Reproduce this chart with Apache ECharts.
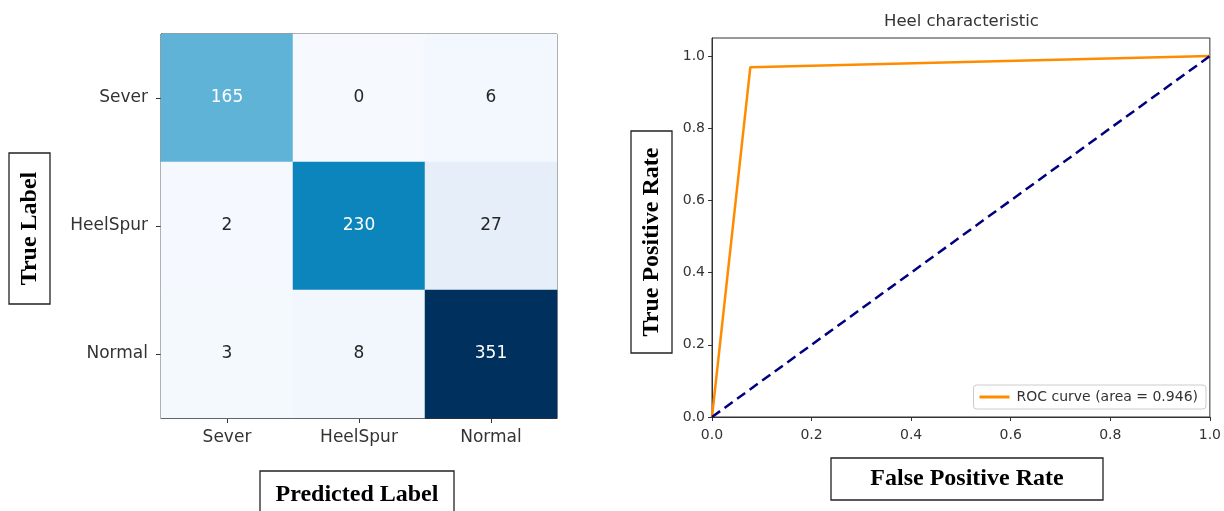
<!DOCTYPE html>
<html>
<head>
<meta charset="utf-8">
<script src="https://cdn.jsdelivr.net/npm/echarts@6/dist/echarts.min.js"></script>
<style>
  html, body { margin: 0; padding: 0; background: #fff; }
  #chart { width: 1224px; height: 511px; }
</style>
</head>
<body>
<div id="chart"></div>
<script>
// ---------- data ----------
const classLabels = ['Sever', 'HeelSpur', 'Normal'];
// rows = true label, columns = predicted label
const confusionSever = [165, 0, 6];
const confusionHeelSpur = [2, 230, 27];
const confusionNormal = [3, 8, 351];
const confusionRows = [confusionSever, confusionHeelSpur, confusionNormal];

const rocFpr = [0.0, 0.077, 1.0];
const rocTpr = [0.0, 0.969, 1.0];
const chanceFpr = [0.0, 1.0];
const chanceTpr = [0.0, 1.0];
const rocArea = 0.946;
const rocTickValues = [0, 0.2, 0.4, 0.6, 0.8, 1.0];

const chartTitle = 'Heel characteristic';
const trueLabelText = 'True Label';
const predLabelText = 'Predicted Label';
const tprLabelText = 'True Positive Rate';
const fprLabelText = 'False Positive Rate';

// ---------- build ----------
const heatData = [];
let maxCount = 0;
confusionRows.forEach((row) => row.forEach((v) => { maxCount = Math.max(maxCount, v); }));
confusionRows.forEach((row, i) => row.forEach((v, j) => {
  heatData.push({ value: [j, i, v], label: { color: v > 100 ? '#ffffff' : '#262626' } });
}));

const rocData = rocFpr.map((x, i) => [x, rocTpr[i]]);
const chanceData = chanceFpr.map((x, i) => [x, chanceTpr[i]]);
const rocName = 'ROC curve (area = ' + rocArea.toFixed(3) + ')';

const tickFont = { fontFamily: 'DejaVu Sans', color: '#333' };
const serifBold = 'bold 24px "Liberation Serif", "Times New Roman", serif';

function boxedLabel(x, y, w, h, text, vertical) {
  return {
    type: 'group',
    children: [
      { type: 'rect', shape: { x: x, y: y, width: w, height: h },
        style: { fill: '#fff', stroke: '#222', lineWidth: 1.3 } },
      { type: 'text', x: x + w / 2, y: y + h / 2, rotation: vertical ? Math.PI / 2 : 0,
        style: { text: text, font: serifBold, fill: '#000', align: 'center', verticalAlign: 'middle' } }
    ]
  };
}

const chart = echarts.init(document.getElementById('chart'), null, { renderer: 'canvas' });
chart.setOption({
  animation: false,
  backgroundColor: '#fff',
  title: {
    text: chartTitle, left: 884, top: 13, padding: 0,
    textStyle: { fontFamily: 'DejaVu Sans', fontSize: 16.5, fontWeight: 'normal', color: '#333' }
  },
  grid: [
    { left: 161, top: 34, width: 396, height: 384, show: true, borderColor: '#333', borderWidth: 1, backgroundColor: 'transparent' },
    { left: 712, top: 38, width: 500, height: 379, show: true, borderColor: '#333', borderWidth: 1, backgroundColor: 'transparent' }
  ],
  xAxis: [
    { type: 'category', gridIndex: 0, data: classLabels, position: 'bottom',
      axisLine: { show: true, lineStyle: { color: '#333' } },
      axisTick: { show: true, alignWithLabel: true, length: 5, lineStyle: { color: '#333' } },
      axisLabel: Object.assign({ fontSize: 17, margin: 11 }, tickFont),
      splitLine: { show: false } },
    { type: 'value', gridIndex: 1, min: 0, max: 1, interval: 0.2,
      axisLine: { show: true, lineStyle: { color: '#333' } },
      axisTick: { show: true, length: 4, lineStyle: { color: '#333' } },
      axisLabel: Object.assign({ fontSize: 14, margin: 11, formatter: v => v.toFixed(1) }, tickFont),
      splitLine: { show: false } }
  ],
  yAxis: [
    { type: 'category', gridIndex: 0, data: classLabels, inverse: true,
      axisLine: { show: true, lineStyle: { color: '#333' } },
      axisTick: { show: true, alignWithLabel: true, length: 5, lineStyle: { color: '#333' } },
      axisLabel: Object.assign({ fontSize: 17, margin: 13 }, tickFont),
      splitLine: { show: false } },
    { type: 'value', gridIndex: 1, min: 0, max: 1.05,
      axisLine: { show: true, lineStyle: { color: '#333' } },
      axisTick: { show: true, length: 4, customValues: rocTickValues, lineStyle: { color: '#333' } },
      axisLabel: Object.assign({ fontSize: 14, margin: 7, customValues: rocTickValues, formatter: v => v.toFixed(1) }, tickFont),
      splitLine: { show: false } }
  ],
  visualMap: {
    show: false, seriesIndex: 0, min: 0, max: maxCount, dimension: 2,
    inRange: { color: ['#f6faff', '#e1ecf7', '#c5dff0', '#a0d0e8', '#7cc0df', '#52aed3',
                       '#1a92c6', '#0079b4', '#005f97', '#00487a', '#00305e'] }
  },
  legend: {
    data: [{ name: rocName, icon: 'rect' }],
    right: 18, top: 385,
    backgroundColor: 'rgba(255,255,255,0.8)', borderColor: '#ccc', borderWidth: 1, borderRadius: 3,
    padding: [5, 8, 5, 6], itemWidth: 30, itemHeight: 3, itemGap: 6,
    textStyle: { fontFamily: 'DejaVu Sans', fontSize: 14, color: '#333', padding: [2, 0, 2, 2] }
  },
  series: [
    { type: 'heatmap', xAxisIndex: 0, yAxisIndex: 0, data: heatData,
      itemStyle: { borderWidth: 0 },
      label: { show: true, fontFamily: 'DejaVu Sans', fontSize: 17 },
      emphasis: { disabled: true } },
    { type: 'line', name: rocName, xAxisIndex: 1, yAxisIndex: 1,
      data: rocData, symbol: 'none', color: '#ff8c00',
      lineStyle: { color: '#ff8c00', width: 2.5 } },
    { type: 'line', name: 'chance', xAxisIndex: 1, yAxisIndex: 1,
      data: chanceData, symbol: 'none', color: '#000080',
      lineStyle: { color: '#000080', width: 2.5, type: [10, 5.5] } }
  ],
  graphic: [
    boxedLabel(9, 153, 41, 151, trueLabelText, true),
    boxedLabel(260, 471, 194, 48, predLabelText, false),
    boxedLabel(631, 131, 41, 222, tprLabelText, true),
    boxedLabel(831, 458, 272, 42, fprLabelText, false)
  ]
});
</script>
</body>
</html>
